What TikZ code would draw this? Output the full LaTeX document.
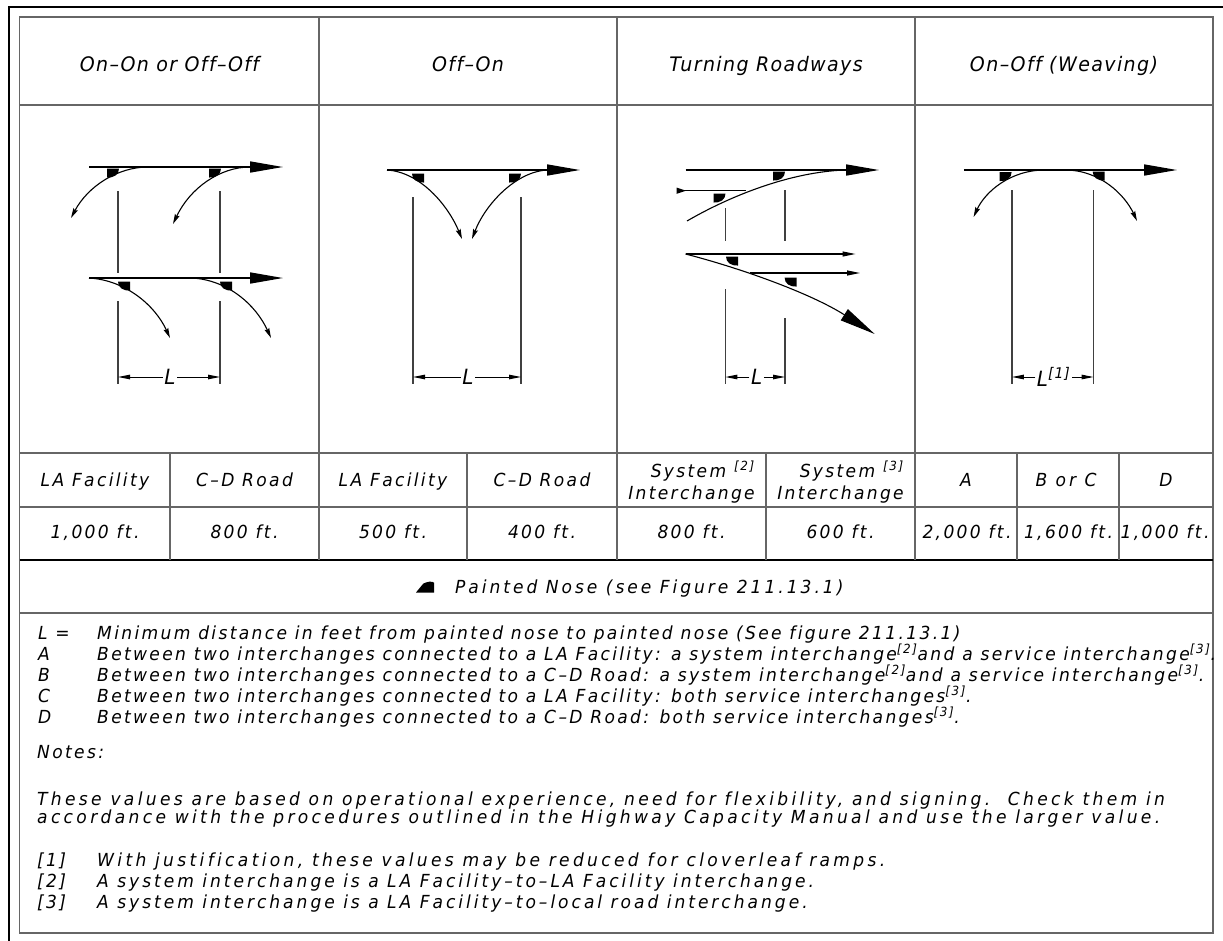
\documentclass[tikz,border=0pt]{standalone}
\usepackage{fontspec}
\newfontfamily\cadfont{DejaVu Sans}[LetterSpace=13,FakeStretch=0.95,Ligatures=NoCommon]
\newfontfamily\cadwide{DejaVu Sans}[LetterSpace=16.5,FakeStretch=0.95,Ligatures=NoCommon]
\newfontfamily\cadwider{DejaVu Sans}[LetterSpace=18.5,FakeStretch=0.95,Ligatures=NoCommon]
\newfontfamily\cadhead{DejaVu Sans}[LetterSpace=7,FakeStretch=0.95,Ligatures=NoCommon]
\usetikzlibrary{arrows.meta}
\newcommand\fnref[1]{\textsuperscript{[#1]}}
\begin{document}
\begin{tikzpicture}[x=1pt,y=-1pt,
  grid/.style={line width=1.6pt,draw=black!60},
  road/.style={line width=1.6pt},
  ramp/.style={line width=1.1pt},
  ext/.style={line width=1.2pt,draw=black!75},
  bigtip/.style={-{Triangle[length=33pt,width=11pt]}},
  ramptip/.style={-{Stealth[length=10pt,width=5pt,inset=1.5pt]}},
  thintip/.style={-{Triangle[length=13pt,width=5pt]}},
  hugetip/.style={-{Triangle[length=36pt,width=13pt]}},
  dimtip/.style={line width=1pt,-{Triangle[length=12pt,width=4.5pt]}},
  body/.style={font=\cadfont\itshape\fontsize{18}{21}\selectfont,inner sep=0pt},
  wide/.style={font=\cadwide\itshape\fontsize{18}{21}\selectfont,inner sep=0pt},
  wider/.style={font=\cadwider\itshape\fontsize{18}{21}\selectfont,inner sep=0pt},
  head/.style={font=\cadhead\itshape\fontsize{20}{23}\selectfont,inner sep=0pt},
  dimlbl/.style={font=\cadhead\itshape\fontsize{21}{23}\selectfont,inner sep=1.5pt},
  nose/.pic={\fill (-0.5,0.5) -- (0.5,0.5) -- (0.5,-0.5) .. controls (-0.1,-0.55) and (-0.5,-0.15) .. (-0.5,0.5) -- cycle;},
  legnose/.pic={\fill (-0.5,0.5) -- (0.5,0.5) -- (0.5,-0.4) .. controls (0.4,-0.55) and (0.1,-0.5) .. (-0.1,-0.3) -- (-0.5,0.5) -- cycle;}
]
\useasboundingbox (0,0) rectangle (1223,940);
\clip (0,0) rectangle (1223,940);
\fill[white] (0,0) rectangle (1223,940);
% outer frame
\draw[line width=2.6pt] (9,960) -- (9,7) -- (1240,7);
% table
\draw[grid] (19.5,17) rectangle (1213,933);
\foreach \yy in {105,453,507,613} \draw[grid] (19.5,\yy) -- (1213,\yy);
\draw[line width=1.6pt] (19.5,560) -- (1213,560);
\foreach \xx in {319,617,915} \draw[grid] (\xx,17) -- (\xx,560);
\foreach \xx in {170,467,766,1017,1119} \draw[grid] (\xx,453) -- (\xx,560);

% headers
\node[head,anchor=base] (h1) at (169.5,71) {On–On or Off–Off};
\node[head,anchor=base] (h2) at (468,71) {Off–On};
\node[head,anchor=base] (h3) at (766,71) {Turning Roadways};
\node[head,anchor=base] (h4) at (1064,71) {On–Off (Weaving)};

% ---------- diagram 1 ----------
\coordinate (a1s) at (89,167); \coordinate (a1e) at (283,167);
\draw[road,bigtip] (a1s) -- (a1e);
\draw[ramp,ramptip] (148,167) .. controls (118,167) and (88,186) .. (71,218);
\draw[ramp,ramptip] (250,167) .. controls (220,167) and (190,188) .. (173,224);
\coordinate (a2s) at (89,278); \coordinate (a2e) at (283,278);
\draw[road,bigtip] (a2s) -- (a2e);
\draw[ramp,ramptip] (89,278) .. controls (125,280) and (155,305) .. (170,338);
\draw[ramp,ramptip] (192,278) .. controls (228,280) and (256,305) .. (271,338);
\pic[xscale=-12,yscale=-9] at (113,173) {nose};
\pic[xscale=-12,yscale=-9] at (215,173) {nose};
\pic[xscale=12,yscale=-9] at (124,286) {nose};
\pic[xscale=12,yscale=-9] at (226,286) {nose};
\draw[ext] (118,191) -- (118,273);
\draw[ext] (220,191) -- (220,273);
\draw[ext] (118,301) -- (118,384);
\draw[ext] (220,301) -- (220,384);
\node[dimlbl] (L1) at (170,377) {L};
\coordinate (d1a) at (118,377); \coordinate (d1b) at (220,377);
\draw[dimtip] (L1.west) -- (d1a);
\draw[dimtip] (L1.east) -- (d1b);

% ---------- diagram 2 ----------
\coordinate (b1s) at (387,170); \coordinate (b1e) at (580,170);
\draw[road,bigtip] (b1s) -- (b1e);
\draw[ramp,ramptip] (387,170) .. controls (420,172) and (448,205) .. (462,239);
\draw[ramp,ramptip] (547,170) .. controls (515,172) and (485,205) .. (472,239);
\pic[xscale=12,yscale=-9] at (418,178) {nose};
\pic[xscale=-12,yscale=-9] at (515,178) {nose};
\draw[ext] (413,197) -- (413,384);
\draw[ext] (521,197) -- (521,384);
\node[dimlbl] (L2) at (468,377) {L};
\coordinate (d2a) at (413,377); \coordinate (d2b) at (521,377);
\draw[dimtip] (L2.west) -- (d2a);
\draw[dimtip] (L2.east) -- (d2b);

% ---------- diagram 3 ----------
\coordinate (c1s) at (685.5,170); \coordinate (c1e) at (879,170);
\draw[road,bigtip] (c1s) -- (c1e);
\draw[ramp] (687,221) .. controls (730,196) and (790,172) .. (845,170);
\draw[ramp] (684,190.7) -- (746,190.7);
\fill (676.5,187.5) -- (686,190.7) -- (676.5,193.9) -- cycle;
\pic[xscale=-12,yscale=-9] at (779,176) {nose};
\pic[xscale=-12,yscale=-9] at (719.5,198) {nose};
\draw[ext] (725.3,208) -- (725.3,241);
\draw[ext] (785,190) -- (785,241);
\coordinate (c2s) at (685.5,254); \coordinate (c2e) at (855.5,254);
\draw[ramp,thintip] (c2s) -- (c2e);
\draw[ramp,hugetip] (685.5,254) .. controls (740,268) and (810,293) .. (874.7,334);
\coordinate (c3s) at (749.6,273); \coordinate (c3e) at (860,273);
\draw[ramp,thintip] (c3s) -- (c3e);
\pic[xscale=12,yscale=-9] at (732,261) {nose};
\pic[xscale=12,yscale=-9] at (790.6,282) {nose};
\draw[ext] (725.3,289) -- (725.3,384);
\draw[ext] (785,318) -- (785,384);
\node[dimlbl] (L3) at (756.6,377) {L};
\coordinate (d3a) at (725.3,377); \coordinate (d3b) at (785,377);
\draw[dimtip] (L3.west) -- (d3a);
\draw[dimtip] (L3.east) -- (d3b);

% ---------- diagram 4 ----------
\coordinate (e1s) at (963.8,170); \coordinate (e1e) at (1177,170);
\draw[road,bigtip] (e1s) -- (e1e);
\draw[ramp,ramptip] (1045,170) .. controls (1010,170) and (985,192) .. (973.6,217);
\draw[ramp,ramptip] (1065,170) .. controls (1100,170) and (1125,195) .. (1137,221);
\pic[xscale=-12,yscale=-9] at (1005.6,176.5) {nose};
\pic[xscale=12,yscale=-9] at (1098.7,176) {nose};
\draw[ext] (1011.9,190) -- (1011.9,384);
\draw[ext] (1093.6,190) -- (1093.6,384);
\node[dimlbl] (L4) at (1053.7,377) {L\textsuperscript{[1]}};
\coordinate (d4a) at (1011.9,377); \coordinate (d4b) at (1093.6,377);
\draw[dimtip] (L4.west) -- (d4a);
\draw[dimtip] (L4.east) -- (d4b);

% ---------- label row ----------
\node[body,anchor=base] (l1) at (95,486) {LA Facility};
\node[body,anchor=base] (l2) at (244.5,486) {C–D Road};
\node[body,anchor=base] (l3) at (393,486) {LA Facility};
\node[body,anchor=base] (l4) at (542,486) {C–D Road};
\node[body,anchor=base] (l5b) at (691.5,499) {Interchange};
\node[body,anchor=base east] (l5a) at ([yshift=22pt]l5b.base east) {System \fnref{2}};
\node[body,anchor=base] (l6b) at (840.5,499) {Interchange};
\node[body,anchor=base east] (l6a) at ([yshift=22pt]l6b.base east) {System \fnref{3}};
\node[body,anchor=base] (l7) at (966,486) {A};
\node[wide,anchor=base] (l8) at (1066,486) {B\ or\ C};
\node[body,anchor=base] (l9) at (1166,486) {D};

% ---------- value row ----------
\node[body,anchor=base] (v1) at (95,538) {1,000 ft.};
\node[body,anchor=base] (v2) at (244.5,538) {800 ft.};
\node[body,anchor=base] (v3) at (393,538) {500 ft.};
\node[body,anchor=base] (v4) at (542,538) {400 ft.};
\node[body,anchor=base] (v5) at (691.5,538) {800 ft.};
\node[body,anchor=base] (v6) at (840.5,538) {600 ft.};
\node[body,anchor=base] (v7) at (967,538) {2,000 ft.};
\node[body,anchor=base] (v8) at (1068.5,538) {1,600 ft.};
\node[body,anchor=base] (v9) at (1165,538) {1,000 ft.};

% ---------- legend ----------
\pic[xscale=18,yscale=11] at (425,587) {legnose};
\node[wide,anchor=base west] (leg) at (455,593) {Painted Nose (see Figure 211.13.1)};

% ---------- notes ----------
\node[body,anchor=base west] (nL) at (38,639) {L =};
\node[body,anchor=base west] (nLt) at (97,639) {Minimum distance in feet from painted nose to painted nose (See figure 211.13.1)};
\node[body,anchor=base west] (nA) at (38,660) {A};
\node[body,anchor=base west] (nAt) at (97,660) {Between two interchanges connected to a LA Facility: a system interchange\fnref{2}and a service interchange\fnref{3}.};
\node[body,anchor=base west] (nB) at (38,681) {B};
\node[body,anchor=base west] (nBt) at (97,681) {Between two interchanges connected to a C–D Road: a system interchange\fnref{2}and a service interchange\fnref{3}.};
\node[body,anchor=base west] (nC) at (38,702) {C};
\node[body,anchor=base west] (nCt) at (97,702) {Between two interchanges connected to a LA Facility: both service interchanges\fnref{3}.};
\node[body,anchor=base west] (nD) at (38,723) {D};
\node[body,anchor=base west] (nDt) at (97,723) {Between two interchanges connected to a C–D Road: both service interchanges\fnref{3}.};
\node[body,anchor=base west] (nN) at (37,758) {Notes:};
\node[wider,anchor=base west] (p1) at (37,805) {These values are based on operational experience, need for flexibility, and signing.\ \ Check them in};
\node[wider,anchor=base west] (p2) at (37,823) {accordance with the procedures outlined in the Highway Capacity Manual and use the larger value.};
\node[body,anchor=base west] (f1) at (37,866) {[1]};
\node[wider,anchor=base west] (f1t) at (97,866) {With justification, these values may be reduced for cloverleaf ramps.};
\node[body,anchor=base west] (f2) at (37,887) {[2]};
\node[wide,anchor=base west] (f2t) at (97,887) {A system interchange is a LA Facility–to–LA Facility interchange.};
\node[body,anchor=base west] (f3) at (37,908) {[3]};
\node[wide,anchor=base west] (f3t) at (97,908) {A system interchange is a LA Facility–to–local road interchange.};
\end{tikzpicture}
\end{document}
